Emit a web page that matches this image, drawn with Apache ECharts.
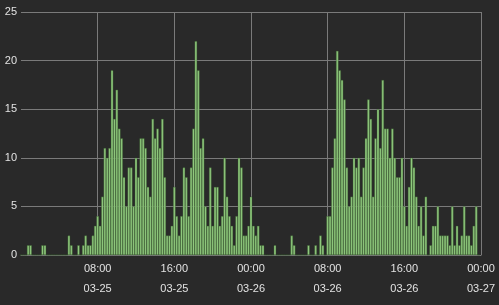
<!DOCTYPE html>
<html>
<head>
<meta charset="utf-8">
<script src="https://cdn.jsdelivr.net/npm/echarts@6/dist/echarts.min.js"></script>
<style>
  html, body { margin: 0; padding: 0; background: #292929; }
  #chart { width: 499px; height: 305px; }
</style>
</head>
<body>
<div id="chart"></div>
<script>
// Counts per 15-minute bin, starting 03-25 00:00, one block per 8 hours
const block_0325_00 = [0,0,0,1,1,0,0,0, 0,1,1,0,0,0,0,0, 0,0,0,0,2,1,0,0, 1,0,1,2,1,1,2,3];
const block_0325_08 = [4,3,6,11,10,11,19,14, 17,13,12,8,5,9,9,5, 10,8,12,12,11,7,6,14, 12,13,11,14,8,2,2,3];
const block_0325_16 = [7,4,2,4,9,8,4,9, 13,22,19,11,12,5,3,9, 3,7,7,3,4,10,6,4, 3,1,4,10,9,2,2,3];
const block_0326_00 = [6,3,2,3,1,1,0,0, 0,0,1,0,0,0,0,0, 0,2,1,0,0,0,0,0, 1,0,0,1,0,2,1,0];
const block_0326_08 = [4,4,9,12,21,19,18,16, 9,5,6,10,9,10,6,9, 12,16,14,6,12,15,11,18, 13,13,10,13,10,8,8,10];
const block_0326_16 = [5,3,7,10,9,6,3,5, 2,6,0,1,3,3,5,2, 2,2,2,1,5,1,3,1, 2,5,2,2,1,3,5,0];

const counts = [].concat(block_0325_00, block_0325_08, block_0325_16,
                         block_0326_00, block_0326_08, block_0326_16);

const startTime = Date.UTC(2024, 2, 25, 0, 0, 0);   // 03-25 00:00
const binMs = 15 * 60 * 1000;
const HOUR = 3600 * 1000;
const yTicks = [0, 5, 10, 15, 20, 25];

const seriesData = counts.map((v, i) => [startTime + i * binMs, v]);

function pad(n) { return (n < 10 ? '0' : '') + n; }
function fmt(val) {
  const d = new Date(val);
  return pad(d.getUTCHours()) + ':' + pad(d.getUTCMinutes()) + '\n' +
         pad(d.getUTCMonth() + 1) + '-' + pad(d.getUTCDate());
}

const chart = echarts.init(document.getElementById('chart'), null, { renderer: 'canvas' });
const textColor = '#e2e2e2';
const gridColor = '#7a7a7a';
const font = "'Liberation Sans', Arial, sans-serif";

chart.setOption({
  backgroundColor: '#292929',
  animation: false,
  grid: { left: 21, right: 18, top: 12, bottom: 50, containLabel: false },
  xAxis: {
    type: 'value',
    min: startTime,
    max: startTime + 48 * HOUR,
    interval: 8 * HOUR,
    axisLine: { show: true, lineStyle: { color: gridColor, width: 1 } },
    axisTick: { show: false },
    splitLine: { show: true, showMinLine: false, lineStyle: { color: gridColor, width: 1 } },
    axisLabel: {
      showMinLabel: false,
      color: textColor,
      fontSize: 11,
      fontFamily: font,
      lineHeight: 20,
      margin: 4,
      formatter: fmt
    }
  },
  yAxis: {
    type: 'value',
    min: yTicks[0],
    max: yTicks[yTicks.length - 1],
    interval: 5,
    axisLine: { show: false },
    axisTick: { show: false },
    splitLine: { show: true, lineStyle: { color: gridColor, width: 1 } },
    axisLabel: { color: textColor, fontSize: 11, fontFamily: font, margin: 4 }
  },
  series: [{
    type: 'bar',
    data: seriesData,
    barWidth: 2.4,
    itemStyle: { color: '#90c97e', borderColor: '#365a2c', borderWidth: 0.4 }
  }]
});
</script>
</body>
</html>
